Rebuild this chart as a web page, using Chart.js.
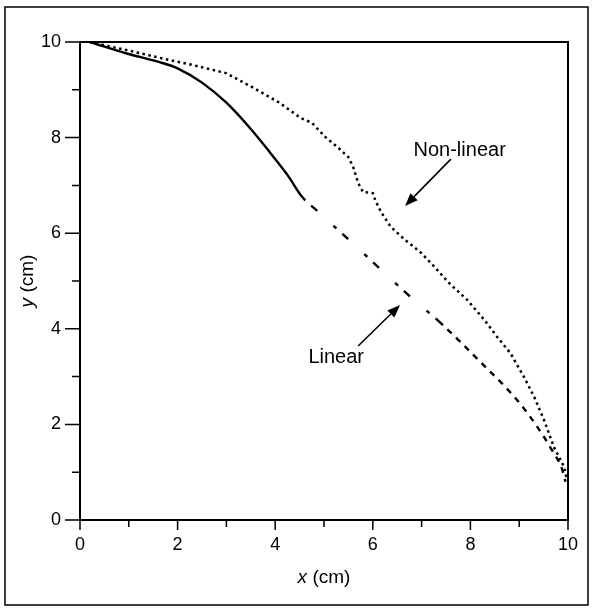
<!DOCTYPE html>
<html>

<head>
    <meta charset="utf-8" />
    <title></title>
    <style>
        body { margin: 0; background: #fff; }
        .wrap { width: 592px; height: 609px; }
    </style>
</head>

<body>
    <div class="wrap">
        <canvas id="chart"></canvas>
    </div>

    <script src="https://cdn.jsdelivr.net/npm/chart.js"></script>
    <script type="text/javascript">

        // Linear solution: solid up to x≈4.6, dashed after
        var linearX = [0.2, 0.96, 1.63, 2.0, 2.5, 3.0, 3.5, 3.9, 4.25, 4.56,
            4.87, 5.2, 5.64, 6.31, 6.76, 7.35, 7.78, 8.31, 8.72, 9.06, 9.35, 9.65, 9.88, 9.95];
        var linearY = [10, 9.76, 9.58, 9.45, 9.15, 8.73, 8.18, 7.68, 7.22, 6.75,
            6.46, 6.15, 5.74, 5.1, 4.68, 4.16, 3.74, 3.2, 2.78, 2.38, 1.98, 1.5, 1.06, 0.8];

        // Non-linear solution (dotted)
        var nonlinearX = [0.2, 0.96, 1.63, 2.3, 2.99, 3.52, 4.07, 4.52, 4.75, 5.03, 5.3, 5.5, 5.6, 5.7, 5.8,
            6.0, 6.05, 6.17, 6.37, 6.66, 6.99, 7.27, 7.54, 7.94, 8.29, 8.55, 8.82, 9.1, 9.31, 9.51, 9.71, 9.92, 9.98];
        var nonlinearY = [10, 9.83, 9.67, 9.52, 9.35, 9.06, 8.74, 8.41, 8.31, 8.01, 7.78, 7.59, 7.38, 7.05, 6.86,
            6.84, 6.69, 6.44, 6.13, 5.86, 5.59, 5.29, 4.98, 4.6, 4.18, 3.83, 3.49, 2.99, 2.57, 2.09, 1.53, 1.11, 0.84];

        var xTicks = [0, 2, 4, 6, 8, 10];
        var yTicks = [0, 2, 4, 6, 8, 10];
        var minorTicks = [1, 3, 5, 7, 9];

        // labels with arrows, in data units
        var notes = [
            { text: 'Non-linear', x: 7.78, y: 7.74, from: [7.6, 7.55], to: [6.66, 6.57] },
            { text: 'Linear', x: 5.25, y: 3.41, from: [5.7, 3.64], to: [6.56, 4.5] }
        ];

        function toPoints(xs, ys) {
            return xs.map(function (x, i) { return { x: x, y: ys[i] }; });
        }

        var FONT = '"Liberation Sans", Arial, Helvetica, sans-serif';

        function arrow(ctx, x1, y1, x2, y2) {
            var a = Math.atan2(y2 - y1, x2 - x1);
            var len = 13, half = 5;
            var bx = x2 - len * Math.cos(a), by = y2 - len * Math.sin(a);
            ctx.beginPath();
            ctx.moveTo(x1, y1);
            ctx.lineTo(bx, by);
            ctx.stroke();
            ctx.beginPath();
            ctx.moveTo(x2, y2);
            ctx.lineTo(bx + half * Math.sin(a), by - half * Math.cos(a));
            ctx.lineTo(bx - half * Math.sin(a), by + half * Math.cos(a));
            ctx.closePath();
            ctx.fill();
        }

        var extras = {
            id: 'extras',
            afterDraw: function (chart) {
                var ctx = chart.ctx;
                var xs = chart.scales.x, ys = chart.scales.y;
                var area = chart.chartArea;
                ctx.save();
                ctx.strokeStyle = '#000';
                ctx.fillStyle = '#000';

                // outer frame
                ctx.lineWidth = 1.5;
                ctx.strokeRect(5, 7, 583, 598);

                // plot box
                ctx.lineWidth = 2;
                ctx.strokeRect(area.left, area.top, area.right - area.left, area.bottom - area.top);

                // ticks (outward)
                ctx.lineWidth = 1.5;
                ctx.beginPath();
                xTicks.forEach(function (v) {
                    var p = xs.getPixelForValue(v);
                    ctx.moveTo(p, area.bottom); ctx.lineTo(p, area.bottom + 10);
                });
                minorTicks.forEach(function (v) {
                    var p = xs.getPixelForValue(v);
                    ctx.moveTo(p, area.bottom); ctx.lineTo(p, area.bottom + 7);
                });
                yTicks.forEach(function (v) {
                    var p = ys.getPixelForValue(v);
                    ctx.moveTo(area.left, p); ctx.lineTo(area.left - 15, p);
                });
                minorTicks.forEach(function (v) {
                    var p = ys.getPixelForValue(v);
                    ctx.moveTo(area.left, p); ctx.lineTo(area.left - 8, p);
                });
                ctx.stroke();

                // axis titles with italic variable
                ctx.textBaseline = 'middle';
                function title(v, rest, cx, cy, rot) {
                    ctx.save();
                    ctx.translate(cx, cy);
                    ctx.rotate(rot);
                    ctx.font = 'italic 19px ' + FONT;
                    var w1 = ctx.measureText(v).width;
                    ctx.font = '19px ' + FONT;
                    var w2 = ctx.measureText(rest).width;
                    var sx = -(w1 + w2) / 2;
                    ctx.textAlign = 'left';
                    ctx.font = 'italic 19px ' + FONT;
                    ctx.fillText(v, sx, 0);
                    ctx.font = '19px ' + FONT;
                    ctx.fillText(rest, sx + w1, 0);
                    ctx.restore();
                }
                title('x', ' (cm)', (area.left + area.right) / 2, 578, 0);
                title('y', ' (cm)', 28, (area.top + area.bottom) / 2, -Math.PI / 2);

                // notes
                ctx.font = '20px ' + FONT;
                ctx.textAlign = 'center';
                ctx.lineWidth = 1.6;
                notes.forEach(function (n) {
                    ctx.fillText(n.text, xs.getPixelForValue(n.x), ys.getPixelForValue(n.y));
                    arrow(ctx, xs.getPixelForValue(n.from[0]), ys.getPixelForValue(n.from[1]),
                        xs.getPixelForValue(n.to[0]), ys.getPixelForValue(n.to[1]));
                });
                ctx.restore();
            }
        };

        var ctx = document.getElementById('chart').getContext('2d');
        var myChart = new Chart(ctx, {
            type: 'line',
            data: {
                datasets: [{
                    label: 'Linear',
                    data: toPoints(linearX, linearY),
                    borderColor: '#000',
                    borderWidth: 2.4,
                    pointRadius: 0,
                    cubicInterpolationMode: 'monotone',
                    fill: false,
                    segment: {
                        borderDash: function (c) {
                            var x0 = c.p0.parsed.x;
                            if (x0 < 4.5) return undefined;
                            if (x0 < 7) return [4, 8, 8, 22];
                            return [6, 6];
                        }
                    }
                }, {
                    label: 'Non-linear',
                    data: toPoints(nonlinearX, nonlinearY),
                    borderColor: '#000',
                    borderWidth: 2.5,
                    borderDash: [2.5, 3.5],
                    pointRadius: 0,
                    tension: 0,
                    fill: false
                }]
            },
            options: {
                responsive: true,
                maintainAspectRatio: false,
                animation: false,
                layout: { padding: { left: 0, top: 42, right: 21, bottom: 0 } },
                plugins: {
                    legend: { display: false },
                    tooltip: { enabled: false }
                },
                scales: {
                    x: {
                        type: 'linear',
                        min: 0,
                        max: 10,
                        afterFit: function (s) { s.height = 89; },
                        grid: { display: false, drawTicks: false },
                        border: { display: false },
                        ticks: {
                            stepSize: 2,
                            padding: 14,
                            color: '#000',
                            font: { family: FONT, size: 18 }
                        }
                    },
                    y: {
                        type: 'linear',
                        min: 0,
                        max: 10,
                        afterFit: function (s) { s.width = 80; },
                        grid: { display: false, drawTicks: false },
                        border: { display: false },
                        ticks: {
                            stepSize: 2,
                            padding: 19,
                            color: '#000',
                            font: { family: FONT, size: 18 }
                        }
                    }
                }
            },
            plugins: [extras]
        });

    </script>

</body>

</html>
